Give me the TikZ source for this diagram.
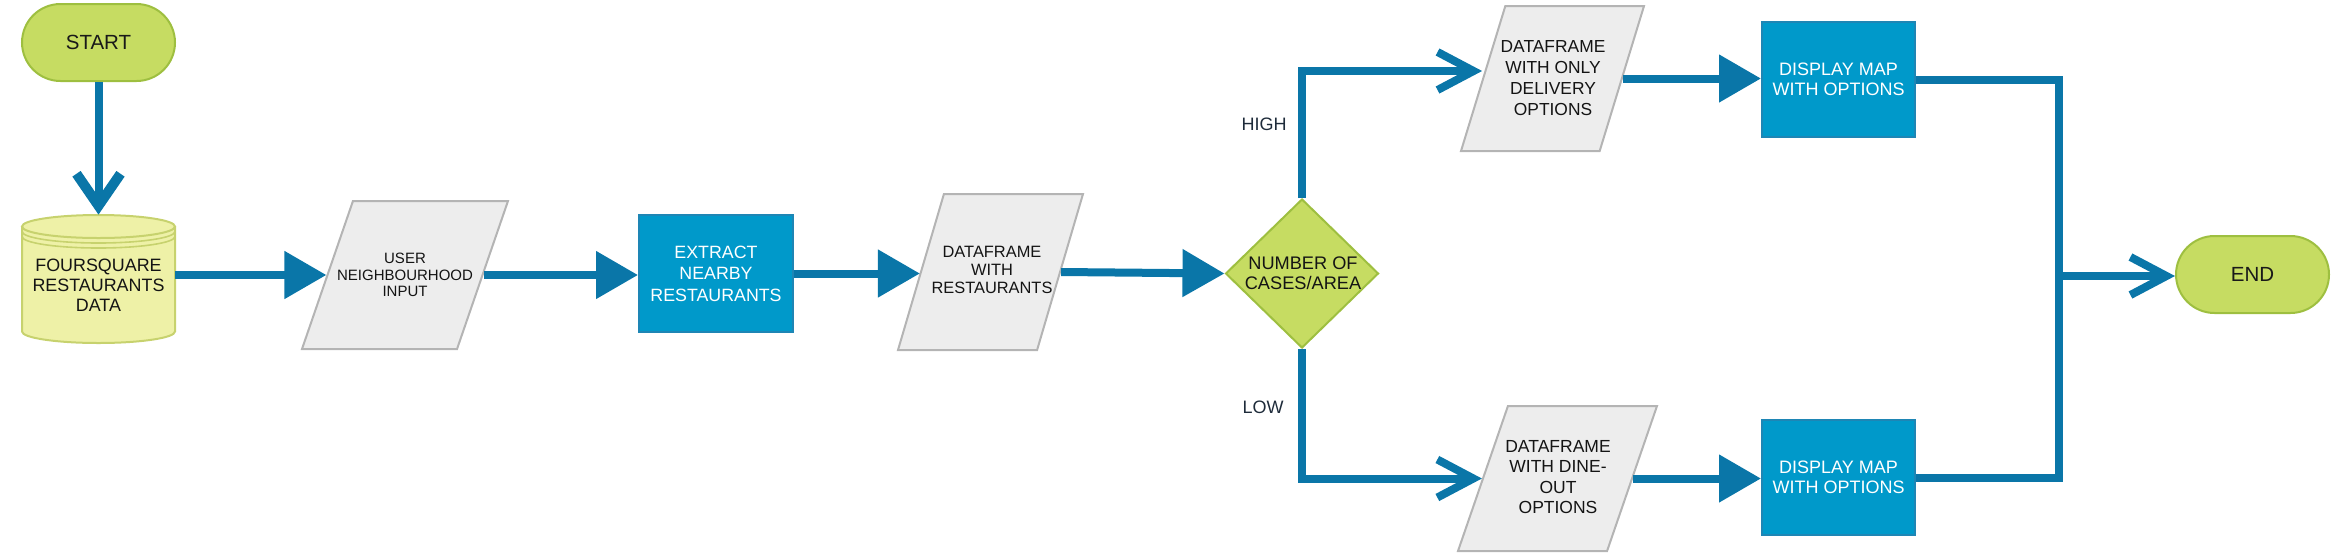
\documentclass[tikz,border=0pt]{standalone}
\usepackage{fontspec}
\setmainfont{Liberation Sans}
\usetikzlibrary{arrows.meta,shapes.geometric,calc}
\definecolor{flow}{HTML}{0A76A8}
\definecolor{procfill}{HTML}{0099CA}
\definecolor{procdraw}{HTML}{1E86B5}
\definecolor{termfill}{HTML}{C6DC62}
\definecolor{termdraw}{HTML}{9EBF40}
\definecolor{dbfill}{HTML}{EEF1A7}
\definecolor{dbdraw}{HTML}{C7D26E}
\definecolor{iofill}{HTML}{EDEDED}
\definecolor{iodraw}{HTML}{B4B4B4}
\definecolor{lblcol}{HTML}{1E2B3A}
\begin{document}
\begin{tikzpicture}[x=0.5pt,y=-0.5pt,
  term/.style={rectangle, rounded corners=19.25pt, draw=termdraw, fill=termfill, line width=1pt,
    minimum width=76.5pt, minimum height=38.5pt, inner sep=0pt, text=black!90,
    font=\fontsize{10.25}{12}\selectfont},
  proc/.style={rectangle, draw=procdraw, fill=procfill, line width=1pt, text=white,
    align=center, inner sep=0pt},
  io/.style={trapezium, trapezium stretches body=true, draw=iodraw, fill=iofill, line width=1pt, inner sep=0pt},
  dec/.style={diamond, draw=termdraw, fill=termfill, line width=1pt, inner sep=0pt,
    minimum width=76.5pt, minimum height=74.5pt},
  txt/.style={align=center, inner sep=0pt, text=black!92},
  lbl/.style={inner sep=0pt, text=lblcol, font=\fontsize{9}{11}\selectfont},
  conn/.style={draw=flow, line width=4pt},
  tri/.style={-{Triangle[length=21pt,width=23pt]}},
  barb/.style={-{Straight Barb[length=18pt,width=19pt]}},
  bigbarb/.style={-{Straight Barb[length=16pt,width=22pt,line width=5pt]}}
]
\useasboundingbox (0,0) rectangle (2340,558);

% start
\node[term] (start) at (98.5,42.5) {START};

% database cylinder
\fill[dbfill] (22,226.5) -- (22,331.5) arc[start angle=180,end angle=360,x radius=38.25pt,y radius=5.75pt]
  -- (175,226.5) arc[start angle=0,end angle=180,x radius=38.25pt,y radius=5.75pt] -- cycle;
\draw[dbdraw, line width=1pt] (22,226.5) -- (22,331.5) arc[start angle=180,end angle=360,x radius=38.25pt,y radius=5.75pt]
  -- (175,226.5);
\draw[dbdraw, line width=1pt] (98.5,226.5) ellipse[x radius=38.25pt,y radius=5.75pt];
\draw[dbdraw, line width=0.8pt] (22,231.5) arc[start angle=180,end angle=360,x radius=38.25pt,y radius=5.75pt];
\draw[dbdraw, line width=0.8pt] (22,236.5) arc[start angle=180,end angle=360,x radius=38.25pt,y radius=5.75pt];
\node[rectangle, inner sep=0pt, minimum width=76.5pt, minimum height=64pt] (db) at (98.5,279) {};
\node[txt, font=\fontsize{8.95}{10}\selectfont] (dbT) at (98.5,285) {FOURSQUARE\\RESTAURANTS\\DATA};

% user input
\node[io, trapezium left angle=71, trapezium right angle=109, minimum width=103pt] (user) at (405,275) {\rule[-37pt]{0pt}{74pt}};
\node[txt, font=\fontsize{7.5}{8.3}\selectfont] (userT) at (405,275) {USER\\NEIGHBOURHOOD\\INPUT};

% extract
\node[proc, minimum width=77pt, minimum height=58.5pt, font=\fontsize{8.9}{10.8}\selectfont] (ext) at (716,273.5) {EXTRACT\\NEARBY\\RESTAURANTS};

% dataframe with restaurants
\node[io, trapezium left angle=73.6, trapezium right angle=106.4, minimum width=92.5pt] (df) at (990.5,272) {\rule[-39pt]{0pt}{78pt}};
\node[txt, font=\fontsize{8.2}{9.2}\selectfont] (dfT) at (992,270) {DATAFRAME\\WITH\\RESTAURANTS};

% decision
\node[dec] (dec) at (1302,273.5) {};
\node[txt, font=\fontsize{9.1}{10}\selectfont] (decT) at (1303,273) {NUMBER OF\\CASES/AREA};

% delivery
\node[io, trapezium left angle=73, trapezium right angle=107, minimum width=91.5pt] (del) at (1552.5,78.5) {\rule[-36.25pt]{0pt}{72.5pt}};
\node[txt, font=\fontsize{8.7}{10.5}\selectfont] (delT) at (1553,78) {DATAFRAME\\WITH ONLY\\DELIVERY\\OPTIONS};

% dine-out
\node[io, trapezium left angle=71, trapezium right angle=109, minimum width=99.5pt] (dine) at (1557.5,478.5) {\rule[-36.25pt]{0pt}{72.5pt}};
\node[txt, font=\fontsize{8.75}{10.3}\selectfont] (dineT) at (1558,477) {DATAFRAME\\WITH DINE-\\OUT\\OPTIONS};

% displays
\node[proc, minimum width=76.5pt, minimum height=57.5pt, font=\fontsize{9}{10}\selectfont] (disp1) at (1838.5,79.5) {DISPLAY MAP\\WITH OPTIONS};
\node[proc, minimum width=76.5pt, minimum height=57.5pt, font=\fontsize{9}{10}\selectfont] (disp2) at (1838.5,477.5) {DISPLAY MAP\\WITH OPTIONS};

% end
\node[term] (end) at (2252.5,274.5) {END};

% labels
\node[lbl] (high) at (1264,124) {HIGH};
\node[lbl] (low) at (1263,407) {LOW};

% connectors
\draw[conn, bigbarb] (start) -- (db.north);
\draw[conn, tri] (db.east |- user.west) -- (user.west);
\draw[conn, tri] (user.east) -- (user.east -| ext.west);
\draw[conn, tri] (ext.east) -- (ext.east -| df.west);
\draw[conn, tri] (df.east) -- (dec.west);
\draw[conn, barb] (dec.north) |- ([yshift=3.75pt]del.west);
\draw[conn, barb] (dec.south) |- (dine.west);
\draw[conn, tri] (del.east) -- (del.east -| disp1.west);
\draw[conn, tri] (dine.east) -- (dine.east -| disp2.west);
\coordinate (j) at (2059,276);
\draw[conn] (disp1.east) -- (disp1.east -| j) -- (disp2.east -| j) -- (disp2.east);
\draw[conn, barb] (j) -- (j -| end.west);
\end{tikzpicture}
\end{document}
